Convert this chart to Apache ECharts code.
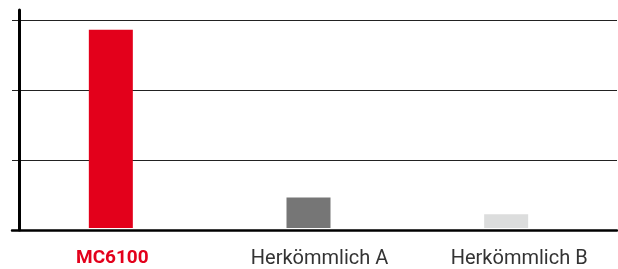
<!DOCTYPE html>
<html>
<head>
<meta charset="utf-8">
<script src="https://cdn.jsdelivr.net/npm/echarts@6/dist/echarts.min.js"></script>
<style>
  html, body { margin: 0; padding: 0; background: #fff; }
  #main { width: 618px; height: 269px; }
</style>
</head>
<body>
<div id="main"></div>
<script>
    // Werte (Skala 0..3, keine Beschriftung)
    var categories = ['MC6100', 'Herkömmlich A', 'Herkömmlich B'];
    var values = [2.86, 0.44, 0.2];
    var barColors = ['#e3001b', '#767676', '#dcdddd'];
    var gridTicks = [0, 3];

    var chart = echarts.init(document.getElementById('main'), null, { renderer: 'canvas' });

    var option = {
        animation: false,
        grid: [
            // Balken
            { left: 12, width: 593, top: 20, bottom: 39 },
            // Hilfslinien über die volle Breite
            { left: 12, right: 1, top: 20, bottom: 39 },
            // senkrechte Achse
            { left: 19.5, width: 100, top: 10, bottom: 39 }
        ],
        xAxis: [
            {
                gridIndex: 0,
                type: 'category',
                data: categories,
                axisLine: { show: false },
                axisTick: { show: false },
                axisLabel: {
                    interval: 0,
                    hideOverlap: false,
                    margin: 21,
                    fontFamily: 'Roboto',
                    fontSize: 20,
                    color: '#333',
                    rich: {
                        red: { color: '#e3001b', fontWeight: 'bold', fontSize: 19, fontFamily: 'Roboto', padding: [0, 0, 0, 3] },
                        a: { color: '#333', fontSize: 20, fontFamily: 'Roboto', padding: [0, 0, 0, 22] },
                        b: { color: '#333', fontSize: 20, fontFamily: 'Roboto', padding: [0, 0, 0, 26] }
                    },
                    formatter: function (v, i) {
                        return '{' + ['red', 'a', 'b'][i] + '|' + v + '}';
                    }
                }
            },
            {
                gridIndex: 1,
                type: 'category',
                data: categories,
                axisLine: { show: true, lineStyle: { color: '#000', width: 2.5 } },
                axisTick: { show: false },
                axisLabel: { show: false }
            },
            {
                gridIndex: 2,
                type: 'category',
                data: categories,
                show: false
            }
        ],
        yAxis: [
            { gridIndex: 0, type: 'value', min: gridTicks[0], max: gridTicks[1], show: false },
            {
                gridIndex: 1,
                type: 'value',
                min: gridTicks[0],
                max: gridTicks[1],
                interval: 1,
                axisLine: { show: false },
                axisTick: { show: false },
                axisLabel: { show: false },
                splitLine: { lineStyle: { color: '#222', width: 1.2 } }
            },
            {
                gridIndex: 2,
                type: 'value',
                min: 0,
                max: 1,
                axisLine: { show: true, lineStyle: { color: '#000', width: 3 } },
                axisTick: { show: false },
                axisLabel: { show: false },
                splitLine: { show: false }
            }
        ],
        series: [{
            type: 'bar',
            xAxisIndex: 0,
            yAxisIndex: 0,
            barWidth: 44,
            z: 3,
            data: values.map(function (v, i) {
                return { value: v, itemStyle: { color: barColors[i] } };
            })
        }]
    };

    chart.setOption(option);
</script>
</body>
</html>
